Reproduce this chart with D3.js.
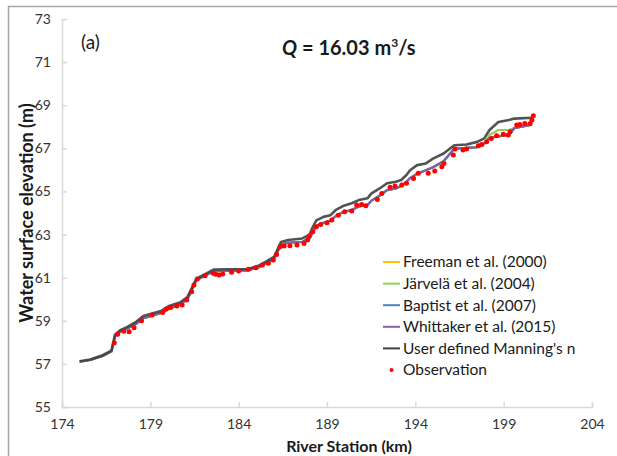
<!DOCTYPE html>
<html>
<head>
<meta charset="utf-8">
<script src="https://cdn.jsdelivr.net/npm/d3@7"></script>
<style>
  body { margin: 0; background: #fff; }
  svg { display: block; font-family: Lato, "Open Sans", sans-serif; }
</style>
</head>
<body>
<div id="chart"></div>
<script>
// river stations (km) of the simulated profiles
const stations = [175.0, 175.6, 176.3, 176.8, 177.0, 177.3, 177.7, 178.2, 178.6, 179.1,
  179.6, 180.1, 180.7, 181.1, 181.6, 182.1, 182.6, 183.5, 184.5, 185.2,
  186.0, 186.2, 186.4, 186.8, 187.6, 188.0, 188.2, 188.4, 188.8, 189.2,
  189.5, 189.9, 190.4, 190.8, 191.3, 191.5, 192.0, 192.4, 192.9, 193.2,
  193.5, 193.7, 194.1, 194.6, 195.0, 195.6, 196.2, 196.9, 197.5, 197.9,
  198.2, 198.7, 199.3, 199.6, 200.6];

const freeman = [57.10, 57.18, 57.37, 57.58, 58.28, 58.50, 58.64, 58.86, 59.12, 59.24,
  59.36, 59.58, 59.76, 60.00, 60.88, 61.10, 61.30, 61.33, 61.34, 61.50,
  61.88, 62.20, 62.52, 62.62, 62.66, 62.80, 63.12, 63.40, 63.55, 63.64,
  63.86, 64.04, 64.14, 64.30, 64.38, 64.56, 64.82, 65.06, 65.14, 65.25,
  65.45, 65.62, 65.82, 65.98, 66.12, 66.40, 66.98, 67.02, 67.05, 67.22,
  67.48, 67.55, 67.62, 67.93, 68.10];
const jarvela = [57.10, 57.18, 57.37, 57.58, 58.28, 58.50, 58.64, 58.86, 59.12, 59.24,
  59.36, 59.58, 59.76, 60.00, 60.88, 61.10, 61.30, 61.33, 61.34, 61.50,
  61.88, 62.20, 62.52, 62.62, 62.66, 62.80, 63.12, 63.40, 63.55, 63.64,
  63.86, 64.04, 64.14, 64.30, 64.38, 64.56, 64.82, 65.06, 65.14, 65.25,
  65.45, 65.62, 65.82, 65.98, 66.12, 66.40, 66.98, 67.02, 67.05, 67.22,
  67.62, 67.85, 67.85, 67.95, 68.10];
const baptist = [57.10, 57.18, 57.37, 57.58, 58.28, 58.50, 58.64, 58.86, 59.12, 59.24,
  59.36, 59.58, 59.76, 60.00, 60.88, 61.10, 61.30, 61.33, 61.34, 61.50,
  61.88, 62.20, 62.52, 62.62, 62.66, 62.80, 63.12, 63.40, 63.55, 63.64,
  63.86, 64.04, 64.14, 64.30, 64.38, 64.56, 64.82, 65.06, 65.14, 65.25,
  65.45, 65.62, 65.82, 65.98, 66.12, 66.40, 66.98, 67.02, 67.05, 67.22,
  67.48, 67.55, 67.62, 67.93, 68.10];
const whittaker = [57.10, 57.18, 57.37, 57.58, 58.28, 58.50, 58.64, 58.86, 59.12, 59.24,
  59.36, 59.58, 59.76, 60.00, 60.88, 61.10, 61.30, 61.33, 61.34, 61.50,
  61.88, 62.20, 62.52, 62.62, 62.66, 62.80, 63.12, 63.40, 63.55, 63.64,
  63.86, 64.04, 64.14, 64.30, 64.38, 64.56, 64.82, 65.06, 65.14, 65.25,
  65.45, 65.62, 65.82, 65.98, 66.12, 66.40, 66.98, 67.02, 67.05, 67.22,
  67.48, 67.55, 67.62, 67.93, 68.10];
const userDefined = [57.12, 57.20, 57.40, 57.62, 58.35, 58.56, 58.72, 58.95, 59.22, 59.34,
  59.45, 59.70, 59.86, 60.10, 60.95, 61.16, 61.38, 61.39, 61.39, 61.58,
  61.96, 62.30, 62.66, 62.75, 62.82, 62.98, 63.36, 63.66, 63.82, 63.90,
  64.14, 64.32, 64.45, 64.60, 64.68, 64.90, 65.15, 65.38, 65.45, 65.53,
  65.76, 65.98, 66.22, 66.30, 66.52, 66.76, 67.14, 67.18, 67.30, 67.46,
  67.85, 68.22, 68.31, 68.38, 68.42];

// observed water surface
const obsStation = [176.96, 177.15, 177.5, 177.8, 178.08, 178.5, 179.1, 179.7, 179.9, 180.15,
  180.5, 180.8, 181.06, 181.34, 181.47, 181.66, 182.1, 182.56, 182.7, 182.9,
  183.1, 183.6, 184.0, 184.55, 184.98, 185.34, 185.68, 185.96, 186.15, 186.34,
  186.57, 186.9, 187.3, 187.7, 187.9, 188.0, 188.2, 188.4, 188.64, 189.0,
  189.27, 189.64, 190.0, 190.4, 190.68, 190.96, 191.2, 191.85, 192.1, 192.57,
  192.85, 193.23, 193.5, 193.9, 194.17, 194.73, 195.1, 195.5, 195.62, 196.15,
  196.25, 196.7, 196.9, 197.57, 197.76, 198.04, 198.3, 198.6, 198.98, 199.26,
  199.36, 199.74, 199.92, 200.2, 200.5, 200.6, 200.68];
const obsElev = [57.98, 58.37, 58.51, 58.49, 58.68, 59.00, 59.27, 59.38, 59.55, 59.62,
  59.68, 59.73, 59.96, 60.35, 60.66, 60.94, 61.09, 61.20, 61.16, 61.12,
  61.17, 61.25, 61.31, 61.39, 61.46, 61.59, 61.67, 61.82, 62.08, 62.44,
  62.47, 62.48, 62.52, 62.59, 62.75, 62.93, 63.13, 63.36, 63.47, 63.55,
  63.67, 63.90, 64.06, 64.09, 64.37, 64.40, 64.34, 64.63, 64.91, 65.19,
  65.25, 65.30, 65.38, 65.60, 65.84, 65.84, 65.95, 66.15, 66.30, 66.69,
  66.97, 66.92, 66.97, 67.12, 67.18, 67.30, 67.46, 67.58, 67.65, 67.62,
  67.77, 68.08, 68.11, 68.15, 68.15, 68.31, 68.51];

const xTicks = [174, 179, 184, 189, 194, 199, 204];
const yTicks = [55, 57, 59, 61, 63, 65, 67, 69, 71, 73];

const seriesNames = ["Freeman et al. (2000)", "Järvelä et al. (2004)", "Baptist et al. (2007)",
  "Whittaker et al. (2015)", "User defined Manning's n"];
const seriesColors = ["#ffc000", "#92d050", "#4f81bd", "#8064a2", "#404040"];
const seriesValues = [freeman, jarvela, baptist, whittaker, userDefined];

const W = 617, H = 456;
const svg = d3.select("#chart").append("svg").attr("width", W).attr("height", H);

// outer frame
svg.append("path").attr("d", `M8.5,${H} V6.5 H${W}`)
  .attr("fill", "none").attr("stroke", "#a6a6a6").attr("stroke-width", 1.5);

const x = d3.scaleLinear().domain([174, 204]).range([62, 592]);
const y = d3.scaleLinear().domain([55, 73]).range([407, 19]);

const axisColor = "#d9d9d9";

const xAxis = svg.append("g").attr("transform", `translate(0,${y(55)})`)
  .call(d3.axisBottom(x).tickValues(xTicks).tickSize(-5).tickPadding(12).tickFormat(d3.format("d")));
const yAxis = svg.append("g").attr("transform", `translate(${x(174)},0)`)
  .call(d3.axisLeft(y).tickValues(yTicks).tickSize(-5).tickPadding(11).tickFormat(d3.format("d")));

[xAxis, yAxis].forEach(g => {
  g.select(".domain").attr("stroke", axisColor).attr("stroke-width", 1.5);
  g.selectAll(".tick line").attr("stroke", axisColor).attr("stroke-width", 1.5);
  g.selectAll(".tick text").attr("fill", "#333").attr("font-size", 14)
    .attr("font-family", "Lato, sans-serif");
});

// profiles
const line = d3.line().x((d, i) => x(stations[i])).y(d => y(d));
seriesValues.forEach((vals, k) => {
  svg.append("path").datum(vals)
    .attr("d", line)
    .attr("fill", "none")
    .attr("stroke", seriesColors[k])
    .attr("stroke-width", k === 4 ? 2.6 : 2.2)
    .attr("stroke-linejoin", "round")
    .attr("opacity", k === 4 ? 0.9 : 1);
});

svg.append("g").selectAll("circle")
  .data(obsStation)
  .join("circle")
  .attr("cx", d => x(d))
  .attr("cy", (d, i) => y(obsElev[i]))
  .attr("r", 2.5)
  .attr("fill", "#ff0000");

// labels
svg.append("text").attr("x", 81).attr("y", 49).attr("font-size", 19).attr("fill", "#1a1a1a").text("(a)");

const title = svg.append("text").attr("x", 282).attr("y", 55)
  .attr("font-size", 20).attr("font-weight", "bold").attr("fill", "#1a1a1a");
title.append("tspan").attr("font-style", "italic").text("Q");
title.append("tspan").text(" = 16.03 m");
title.append("tspan").attr("font-size", 12).attr("dy", -8).text("3");
title.append("tspan").attr("dy", 8).text("/s");

svg.append("text").attr("x", 349).attr("y", 452).attr("text-anchor", "middle")
  .attr("font-size", 16).attr("font-weight", "bold").attr("fill", "#1a1a1a")
  .text("River Station (km)");

svg.append("text").attr("transform", "translate(33,213) rotate(-90)").attr("text-anchor", "middle")
  .attr("font-size", 18).attr("font-weight", "bold").attr("fill", "#1a1a1a")
  .text("Water surface elevation (m)");

// legend
const legend = svg.append("g").attr("transform", "translate(383,262)");
seriesNames.forEach((name, k) => {
  const row = legend.append("g").attr("transform", `translate(0,${k * 21.6})`);
  row.append("line").attr("x1", 0).attr("x2", 17).attr("stroke", seriesColors[k]).attr("stroke-width", 2);
  row.append("text").attr("x", 20).attr("dy", "0.35em").attr("font-size", 15.5)
    .attr("fill", "#1a1a1a").text(name);
});
const obsRow = legend.append("g").attr("transform", `translate(0,${5 * 21.6})`);
obsRow.append("circle").attr("cx", 8.5).attr("r", 2).attr("fill", "#ff0000");
obsRow.append("text").attr("x", 20).attr("dy", "0.35em").attr("font-size", 15.5)
  .attr("fill", "#1a1a1a").text("Observation");
</script>
</body>
</html>
